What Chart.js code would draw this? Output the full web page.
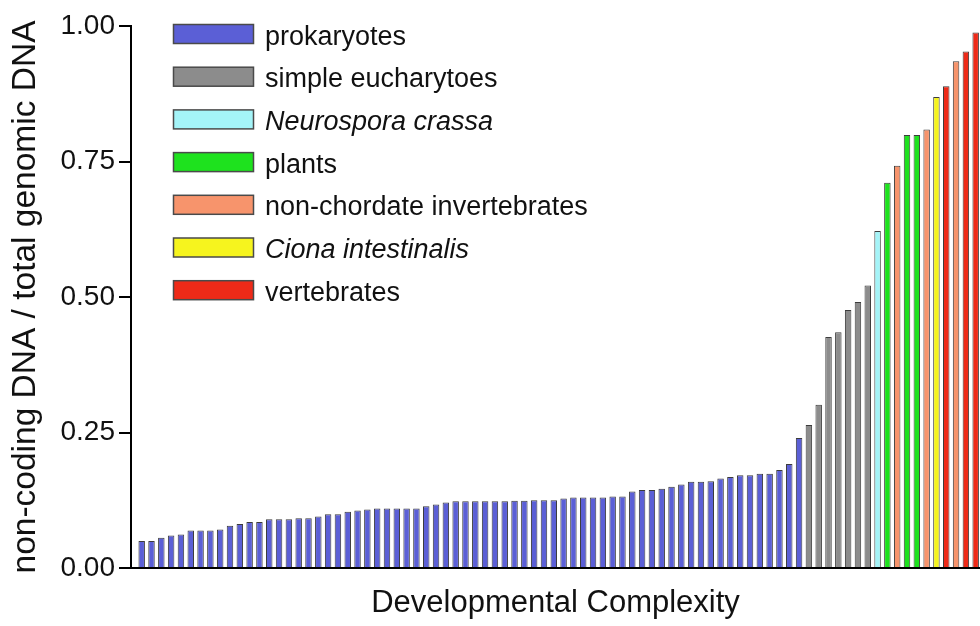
<!DOCTYPE html>
<html>
<head>
<meta charset="utf-8">
<script src="https://cdn.jsdelivr.net/npm/chart.js@4/dist/chart.umd.min.js"></script>
<style>
html,body{margin:0;padding:0;background:#fff;}
#wrap{width:980px;height:626px;position:relative;}
</style>
</head>
<body>
<div id="wrap"><canvas id="c" width="980" height="626"></canvas></div>
<script>
// Legend / group definitions
const groupNames = ['prokaryotes', 'simple eucharytoes', 'Neurospora crassa', 'plants', 'non-chordate invertebrates', 'Ciona intestinalis', 'vertebrates'];
const groupItalic = [false, false, true, false, false, true, false];
const groupColors = ['#5b5fd6', '#8c8c8c', '#a4f4f8', '#1ee21e', '#f7946c', '#f6f41e', '#ee2a18'];

// Y tick values
const yTickValues = [0, 0.25, 0.5, 0.75, 1.0];

// Ratio of non-coding DNA per organism, ordered by developmental complexity
const barValues = [
  // prokaryotes
  0.050, 0.050, 0.056, 0.060, 0.062, 0.069, 0.069, 0.069, 0.071, 0.078, 0.081, 0.085, 0.085, 0.090, 0.090, 0.090, 0.092, 0.092, 0.095, 0.099, 0.099,
  0.104, 0.106, 0.108, 0.110, 0.110, 0.110, 0.110, 0.110, 0.114, 0.117, 0.121, 0.123, 0.123, 0.123, 0.123, 0.123, 0.123, 0.124, 0.124, 0.125, 0.125,
  0.125, 0.128, 0.130, 0.130, 0.130, 0.130, 0.132, 0.132, 0.141, 0.144, 0.144, 0.146, 0.150, 0.154, 0.159, 0.159, 0.160, 0.165, 0.168, 0.171, 0.171, 0.174, 0.174, 0.181, 0.192, 0.240,
  // simple eucharytoes
  0.264, 0.301, 0.426, 0.435, 0.476, 0.491, 0.521,
  // N. crassa, plants, invertebrates, Ciona, vertebrates
  0.622, 0.711, 0.742, 0.799, 0.799, 0.809, 0.869, 0.889, 0.935, 0.953, 0.988
];

// Group index of each bar
const barGroups = [
  0,0,0,0,0,0,0,0,0,0,0,0,0,0,0,0,0,0,0,0,0,
  0,0,0,0,0,0,0,0,0,0,0,0,0,0,0,0,0,0,0,0,0,
  0,0,0,0,0,0,0,0,0,0,0,0,0,0,0,0,0,0,0,0,0,0,0,0,0,0,
  1,1,1,1,1,1,1,
  2,3,4,3,3,4,5,6,4,6,6
];

const barPositions = barValues.map((_, i) => i);

const FONT = '"Liberation Sans", Arial, Helvetica, sans-serif';

const legendPlugin = {
  id: 'boxLegend',
  afterDraw(chart) {
    const ctx = chart.ctx;
    ctx.save();
    groupNames.forEach((name, i) => {
      const y = 24.5 + i * 42.7;
      ctx.fillStyle = groupColors[i];
      ctx.fillRect(173.5, y, 80, 19);
      ctx.strokeStyle = '#4a4a4a';
      ctx.lineWidth = 1.5;
      ctx.strokeRect(173.5, y, 80, 19);
      ctx.font = (groupItalic[i] ? 'italic ' : '') + '27px ' + FONT;
      ctx.fillStyle = '#111';
      ctx.textBaseline = 'alphabetic';
      ctx.textAlign = 'left';
      ctx.fillText(name, 265, y + 20);
    });
    ctx.restore();
  }
};

new Chart(document.getElementById('c'), {
  type: 'bar',
  data: {
    labels: barPositions,
    datasets: [{
      data: barValues,
      backgroundColor: barGroups.map(g => groupColors[g]),
      borderColor: '#3c3c3c',
      borderWidth: 1,
      categoryPercentage: 1,
      barPercentage: 0.66
    }]
  },
  options: {
    responsive: false,
    animation: false,
    devicePixelRatio: 1,
    layout: { padding: { top: 26, left: 0, right: 0, bottom: 0 } },
    plugins: { legend: { display: false }, tooltip: { enabled: false } },
    scales: {
      x: {
        type: 'linear',
        offset: false,
        bounds: 'data',
        min: -1.09,
        max: 85.44,
        ticks: { display: false },
        grid: { display: false, offset: false },
        border: { display: true, color: '#000', width: 2 },
        title: {
          display: true,
          text: 'Developmental Complexity',
          color: '#111',
          font: { family: FONT, size: 31 },
          padding: { top: 0, bottom: 4 }
        },
        afterFit(s) { s.height = 58; }
      },
      y: {
        min: 0,
        max: 1,
        afterBuildTicks(s) { s.ticks = yTickValues.map(v => ({ value: v })); },
        ticks: {
          callback: v => Number(v).toFixed(2),
          color: '#111',
          font: { family: FONT, size: 28 },
          padding: 4
        },
        grid: { display: true, drawOnChartArea: false, drawTicks: true, tickLength: 12, color: '#000', lineWidth: 2 },
        border: { display: true, color: '#000', width: 2 },
        title: {
          display: true,
          text: 'non-coding DNA / total genomic DNA',
          color: '#111',
          font: { family: FONT, size: 33.5 },
          padding: { top: 6, bottom: 0 }
        },
        afterFit(s) { s.width = 131; }
      }
    }
  },
  plugins: [legendPlugin]
});
</script>
</body>
</html>
